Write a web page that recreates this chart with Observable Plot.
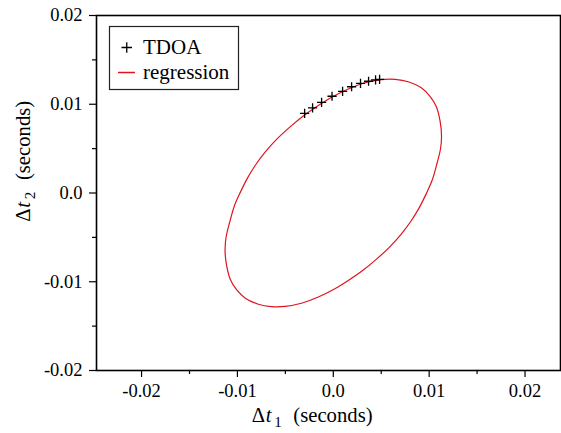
<!DOCTYPE html>
<html>
<head>
<meta charset="utf-8">
<script src="https://cdn.jsdelivr.net/npm/d3@7"></script>
<script src="https://cdn.jsdelivr.net/npm/@observablehq/plot@0.6"></script>
<style>
  html, body { margin: 0; padding: 0; background: white; }
  svg, svg text, svg tspan { font-family: 'Liberation Serif', 'DejaVu Serif', serif !important; }
</style>
</head>
<body>
<div id="chart"></div>
<script>
// TDOA measurements (Δt1, Δt2) in seconds
const tdoaX = [-0.00299, -0.00216, -0.00122, -0.00013, 0.00097, 0.00191, 0.00284, 0.00368, 0.00441, 0.00483];
const tdoaY = [0.00898, 0.00960, 0.01022, 0.01090, 0.01146, 0.01197, 0.01236, 0.01259, 0.01275, 0.01281];

// Regression ellipse, points (upper arc, then lower arc)
const regX = [-0.01129, -0.01118, -0.01080, -0.01032, -0.00970, -0.00897, -0.00813, -0.00709, -0.00584, -0.00448,
  -0.00313, -0.00156, -0.00021, 0.00156, 0.00323, 0.00501, 0.00647, 0.00782, 0.00918, 0.01011,
  0.01074, 0.01114, 0.01129,
  0.01118, 0.01080, 0.01032, 0.00970, 0.00897, 0.00813, 0.00709, 0.00584, 0.00448, 0.00313,
  0.00156, 0.00021, -0.00156, -0.00323, -0.00501, -0.00647, -0.00782, -0.00918, -0.01011, -0.01074,
  -0.01114];
const regY = [-0.00642, -0.00496, -0.00327, -0.00146, 0.00007, 0.00165, 0.00313, 0.00463, 0.00612, 0.00748,
  0.00868, 0.00986, 0.01076, 0.01172, 0.01239, 0.01277, 0.01280, 0.01253, 0.01185, 0.01087,
  0.00975, 0.00811, 0.00642,
  0.00496, 0.00327, 0.00146, -0.00007, -0.00165, -0.00313, -0.00463, -0.00612, -0.00748, -0.00868,
  -0.00986, -0.01076, -0.01172, -0.01239, -0.01277, -0.01280, -0.01253, -0.01185, -0.01087, -0.00975,
  -0.00811];

// Ticks
const xMajor = [-0.02, -0.01, 0, 0.01, 0.02];
const xMinor = [-0.015, -0.005, 0.005, 0.015];
const yMajor = [-0.02, -0.01, 0, 0.01, 0.02];
const yMinor = [-0.015, -0.005, 0.005, 0.015];
const legendLabels = ["TDOA", "regression"];

const tdoa = tdoaX.map((x, i) => ({x, y: tdoaY[i]}));
const reg = regX.map((x, i) => ({x, y: regY[i]}));
const fmt = d => d === 0 ? "0.0" : d.toFixed(2);

const plusSymbol = {
  draw(context, size) {
    const r = Math.sqrt(size / Math.PI);
    context.moveTo(-r, 0); context.lineTo(r, 0);
    context.moveTo(0, -r); context.lineTo(0, r);
  }
};

const serif = "'Liberation Serif', 'DejaVu Serif', serif";
const red = "#e0141e";

const svg = Plot.plot({
  width: 561,
  height: 433,
  marginLeft: 96,
  marginRight: 1,
  marginTop: 15,
  marginBottom: 63,
  style: {fontFamily: serif, fontSize: "18.5px", color: "black", background: "white"},
  x: {domain: [-0.0247, 0.0237]},
  y: {domain: [-0.02, 0.02]},
  marks: [
    Plot.line(reg, {x: "x", y: "y", stroke: red, strokeWidth: 1.2, curve: "catmull-rom-closed"}),
    Plot.dot(tdoa, {x: "x", y: "y", symbol: plusSymbol, r: 4.6, stroke: "black", fill: "none", strokeWidth: 1.3}),
    Plot.frame({stroke: "black", strokeWidth: 1.6}),
    Plot.axisX(xMinor, {tickSize: 4, text: null, strokeWidth: 1.2, label: null}),
    Plot.axisX(xMajor, {tickSize: 7, tickPadding: 6, tickFormat: fmt, strokeWidth: 1.2, label: null, fontSize: 18.5, fontFamily: serif}),
    Plot.axisY(yMinor, {tickSize: 4, text: null, strokeWidth: 1.2, label: null}),
    Plot.axisY(yMajor, {tickSize: 7, tickPadding: 7, tickFormat: fmt, strokeWidth: 1.2, label: null, fontSize: 18.5, fontFamily: serif})
  ]
});

const s = d3.select(svg).attr("font-family", serif);

// Axis labels (Δt with subscript, spaced like math text)
function axisLabel(g, sub) {
  const t = g.append("text").attr("text-anchor", "start")
    .attr("font-family", serif).attr("font-size", 20.7).attr("fill", "black");
  t.append("tspan").attr("x", 0).text("Δ");
  t.append("tspan").attr("x", 14).attr("font-style", "italic").text("t");
  t.append("tspan").attr("x", 22.5).attr("dy", 5).attr("font-size", 15).text(sub);
  t.append("tspan").attr("x", 41.6).attr("dy", -5).text("(seconds)");
}
axisLabel(s.append("g").attr("transform", "translate(251.7,422)"), "1");
axisLabel(s.append("g").attr("transform", "translate(30,221.7) rotate(-90)"), "2");

// Legend
const lg = s.append("g").attr("text-anchor", "start");
lg.append("rect").attr("x", 109.5).attr("y", 26.5).attr("width", 129).attr("height", 63)
  .attr("fill", "white").attr("stroke", "#222").attr("stroke-width", 1.2);
lg.append("path").attr("d", "M121.5,47.5h10.5M126.75,42.25v10.5")
  .attr("stroke", "black").attr("stroke-width", 1.3).attr("fill", "none");
lg.append("line").attr("x1", 118).attr("x2", 135).attr("y1", 72.5).attr("y2", 72.5)
  .attr("stroke", red).attr("stroke-width", 1.5);
lg.append("text").attr("x", 143).attr("y", 54).attr("text-anchor", "start")
  .attr("font-family", serif).attr("font-size", 21).attr("fill", "black").text(legendLabels[0]);
lg.append("text").attr("x", 143).attr("y", 78.5).attr("text-anchor", "start")
  .attr("font-family", serif).attr("font-size", 21).attr("fill", "black").text(legendLabels[1]);

document.getElementById("chart").appendChild(svg);
</script>
</body>
</html>
